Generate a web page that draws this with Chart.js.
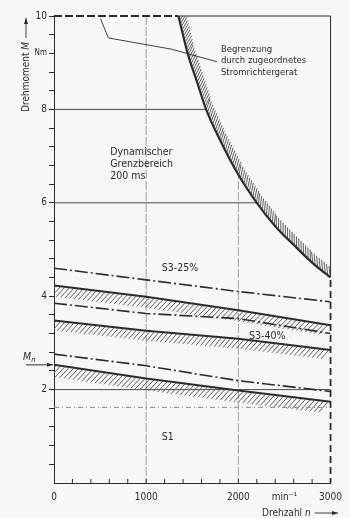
<!DOCTYPE html>
<html>
<head>
<meta charset="utf-8">
<script src="https://cdn.jsdelivr.net/npm/chart.js@4.4.0/dist/chart.umd.min.js"></script>
<style>
  html, body { margin: 0; padding: 0; background: #f7f7f5; }
  #wrap { width: 350px; height: 518px; position: relative; }
</style>
</head>
<body>
<div id="wrap"><canvas id="torqueChart"></canvas></div>
<script>
// Speed n (min^-1) / torque M (Nm)
const speedSteps   = [0, 1000, 2000, 3000];
const torqueS3_25  = [4.60, 4.35, 4.10, 3.88];   // dash-dot above S3-25%
const torqueUpper  = [4.23, 3.99, 3.70, 3.38];   // solid, hatched below
const torqueS3_40  = [3.85, 3.63, 3.52, 3.20];   // dash-dot
const torqueMiddle = [3.48, 3.26, 3.09, 2.85];   // solid, hatched below
const torqueS1     = [2.76, 2.51, 2.19, 1.96];   // dash-dot
const torqueLower  = [2.53, 2.24, 1.98, 1.74];   // solid, hatched below
const torqueDotted = [1.62, 1.62, 1.62, 1.62];

// converter limit (hyperbola)
const limitSpeed  = [1350, 1450, 1550, 1650, 1800, 2000, 2200, 2400, 2600, 2800, 3000];
const limitTorque = [10, 9.2, 8.6, 8.0, 7.35, 6.6, 6.0, 5.5, 5.1, 4.72, 4.4];

// leader line of the "Begrenzung" note
const leaderSpeed  = [505, 590, 1274, 1768];
const leaderTorque = [9.94, 9.53, 9.29, 9.02];

const gridTorque = [2, 6, 8];
const gridSpeed = [1000, 2000];
const ratedTorque = 2.53;

const xTickValues = [0, 1000, 2000, 2500, 3000];
const xTickTexts  = ['0', '1000', '2000', 'min\u207B\u00B9', '3000'];
const yTickValues = [2, 4, 6, 8, 9.2, 10];
const yTickTexts  = ['2', '4', '6', '8', 'Nm', '10'];

const FONT = '"DejaVu Sans Condensed", "Liberation Sans Narrow", "DejaVu Sans", sans-serif';
const INK = '#2b2b2b';
const HATCH = '#5e5e5e';
const PAPER = '#f7f7f5';

function toXY(xs, ys) {
    return xs.map((x, i) => ({ x: x, y: ys[i] }));
}

// --- helpers for the frame / clipping -------------------------------------
function curvePixels(chart) {
    return chart.getDatasetMeta(0).data.map(p => ({ x: p.x, y: p.y }));
}

function insidePath(ctx, a, c) {
    const last = c[c.length - 1];
    ctx.beginPath();
    ctx.moveTo(a.left - 4, a.top - 4);
    ctx.lineTo(c[0].x, a.top - 4);
    c.forEach(p => ctx.lineTo(p.x, p.y));
    ctx.lineTo(a.right + 4, last.y);
    ctx.lineTo(a.right + 4, a.bottom + 4);
    ctx.lineTo(a.left - 4, a.bottom + 4);
    ctx.closePath();
}

function outsidePath(ctx, a, c) {
    const last = c[c.length - 1];
    ctx.beginPath();
    ctx.moveTo(c[0].x, a.top - 4);
    c.forEach(p => ctx.lineTo(p.x, p.y));
    ctx.lineTo(a.right + 4, last.y);
    ctx.lineTo(a.right + 4, a.top - 4);
    ctx.closePath();
}

function line(ctx, x1, y1, x2, y2) {
    ctx.beginPath();
    ctx.moveTo(x1, y1);
    ctx.lineTo(x2, y2);
    ctx.stroke();
}

// Paper, grid lines and frame, split at the limit curve
const framePlugin = {
    id: 'frame',
    beforeDraw(chart) {
        const ctx = chart.ctx;
        ctx.save();
        ctx.fillStyle = PAPER;
        ctx.fillRect(0, 0, chart.width, chart.height);
        ctx.restore();
    },
    beforeDatasetsDraw(chart) {
        const ctx = chart.ctx;
        const a = chart.chartArea;
        const xs = chart.scales.x, ys = chart.scales.y;
        const c = curvePixels(chart);

        // inside the permitted region
        ctx.save();
        insidePath(ctx, a, c);
        ctx.clip();
        ctx.strokeStyle = '#4a4a4a';
        ctx.lineWidth = 1;
        gridTorque.forEach(v => {
            const y = ys.getPixelForValue(v);
            line(ctx, a.left, y, a.right, y);
        });
        ctx.strokeStyle = '#949494';
        ctx.lineWidth = 0.9;
        ctx.setLineDash([9, 2]);
        gridSpeed.forEach(v => {
            const x = xs.getPixelForValue(v);
            line(ctx, x, a.top, x, a.bottom);
        });
        ctx.strokeStyle = INK;
        ctx.lineWidth = 2;
        ctx.setLineDash([8, 3]);
        line(ctx, a.left, a.top, a.right, a.top);
        ctx.lineWidth = 1.8;
        ctx.setLineDash([7, 4]);
        line(ctx, a.right, a.top, a.right, a.bottom);
        ctx.restore();

        // beyond the curve: thin solid frame
        ctx.save();
        outsidePath(ctx, a, c);
        ctx.clip();
        ctx.strokeStyle = INK;
        ctx.lineWidth = 1;
        line(ctx, a.left, a.top, a.right, a.top);
        line(ctx, a.right, a.top, a.right, a.bottom);
        ctx.restore();

        // inward ticks on the speed axis
        ctx.save();
        ctx.strokeStyle = INK;
        ctx.lineWidth = 1;
        for (let n = 200; n < 3000; n += 200) {
            const x = xs.getPixelForValue(n);
            line(ctx, x, a.bottom, x, a.bottom - 4);
        }
        ctx.restore();
    }
};

// Hatched bands along a dataset line
const hatchPlugin = {
    id: 'hatch',
    beforeDatasetsDraw(chart) {
        const ctx = chart.ctx;
        const a = chart.chartArea;
        ctx.save();
        ctx.beginPath();
        ctx.rect(a.left, a.top, a.right - a.left, a.bottom - a.top);
        ctx.clip();
        ctx.strokeStyle = HATCH;
        ctx.lineWidth = 1;
        chart.data.datasets.forEach((ds, i) => {
            const h = ds.hatch;
            if (!h) return;
            const pts = chart.getDatasetMeta(i).data.map(p => ({ x: p.x, y: p.y }));
            const th = h.angle * Math.PI / 180;
            const len = h.width / Math.sin(th);
            let offset = h.gap / 2;
            for (let k = 0; k < pts.length - 1; k++) {
                const p0 = pts[k], p1 = pts[k + 1];
                const dx = p1.x - p0.x, dy = p1.y - p0.y;
                const segLen = Math.hypot(dx, dy);
                const tx = dx / segLen, ty = dy / segLen;
                const nx = h.side * ty, ny = -h.side * tx;
                const ux = -tx * Math.cos(th) + nx * Math.sin(th);
                const uy = -ty * Math.cos(th) + ny * Math.sin(th);
                let s = offset;
                while (s < segLen) {
                    const px = p0.x + tx * s, py = p0.y + ty * s;
                    line(ctx, px + ux, py + uy, px + ux * len, py + uy * len);
                    s += h.gap;
                }
                offset = s - segLen;
            }
        });
        ctx.restore();
    }
};

function italicText(ctx, str, x, y, size) {
    ctx.font = 'italic ' + size + 'px ' + FONT;
    ctx.fillText(str, x, y);
    return ctx.measureText(str).width;
}

function arrow(ctx, x1, y1, x2, y2) {
    line(ctx, x1, y1, x2, y2);
    const ang = Math.atan2(y2 - y1, x2 - x1);
    ctx.beginPath();
    ctx.moveTo(x2, y2);
    ctx.lineTo(x2 - 6 * Math.cos(ang) + 2 * Math.sin(ang), y2 - 6 * Math.sin(ang) - 2 * Math.cos(ang));
    ctx.lineTo(x2 - 6 * Math.cos(ang) - 2 * Math.sin(ang), y2 - 6 * Math.sin(ang) + 2 * Math.cos(ang));
    ctx.closePath();
    ctx.fill();
}

// Notes, axis titles and the Mn marker
const textPlugin = {
    id: 'notes',
    afterDraw(chart) {
        const ctx = chart.ctx;
        const xs = chart.scales.x, ys = chart.scales.y;
        const a = chart.chartArea;
        const px = v => xs.getPixelForValue(v);
        const py = v => ys.getPixelForValue(v);
        ctx.save();
        ctx.fillStyle = INK;
        ctx.strokeStyle = INK;
        ctx.textBaseline = 'middle';
        ctx.textAlign = 'left';

        ctx.font = '9.5px ' + FONT;
        ['Begrenzung', 'durch zugeordnetes', 'Stromrichtergerat'].forEach((t, i) => {
            ctx.fillText(t, px(1811), py(9.29) + i * 11.5);
        });
        ctx.font = '10.5px ' + FONT;
        ['Dynamischer', 'Grenzbereich', '200 ms'].forEach((t, i) => {
            ctx.fillText(t, px(610), py(7.09) + i * 12);
        });
        ctx.fillText('S3-25%', px(1170), py(4.60));
        ctx.fillText('S3-40%', px(2116), py(3.15));
        ctx.fillText('S1', px(1170), py(0.98));

        // Mn arrow
        const yMn = py(ratedTorque);
        const w = italicText(ctx, 'M', 23, yMn - 8, 10.5);
        ctx.font = 'italic 7.5px ' + FONT;
        ctx.fillText('n', 23 + w, yMn - 5);
        ctx.lineWidth = 1;
        arrow(ctx, 26, yMn, a.left - 1, yMn);

        // y title, rotated
        ctx.save();
        ctx.translate(26, 112);
        ctx.rotate(-Math.PI / 2);
        ctx.font = '10px ' + FONT;
        ctx.fillText('Drehmoment', 0, 0);
        let off = ctx.measureText('Drehmoment ').width;
        off += italicText(ctx, 'M', off, 0, 10);
        ctx.lineWidth = 0.9;
        arrow(ctx, off + 4, 0, 94, 0);
        ctx.restore();

        // x title
        ctx.font = '10px ' + FONT;
        ctx.fillText('Drehzahl', 262, 513);
        let xo = 262 + ctx.measureText('Drehzahl ').width;
        xo += italicText(ctx, 'n', xo, 513, 10);
        ctx.lineWidth = 0.9;
        arrow(ctx, xo + 4, 513, 338, 513);
        ctx.restore();
    }
};

const dashDot = [13, 3, 2, 3];

new Chart(document.getElementById('torqueChart'), {
    type: 'line',
    data: {
        datasets: [
            { label: 'Begrenzung', data: toXY(limitSpeed, limitTorque), borderWidth: 2.2,
              cubicInterpolationMode: 'monotone', hatch: { side: 1, width: 8, angle: 45, gap: 3.2 } },
            { label: 'S3-25%', data: toXY(speedSteps, torqueS3_25), borderWidth: 1.6, borderDash: dashDot },
            { label: 'upper', data: toXY(speedSteps, torqueUpper), borderWidth: 2,
              hatch: { side: -1, width: 11, angle: 55, gap: 4.5 } },
            { label: 'S3-40%', data: toXY(speedSteps, torqueS3_40), borderWidth: 1.6, borderDash: dashDot },
            { label: 'middle', data: toXY(speedSteps, torqueMiddle), borderWidth: 2,
              hatch: { side: -1, width: 10, angle: 55, gap: 4.5 } },
            { label: 'S1', data: toXY(speedSteps, torqueS1), borderWidth: 1.6, borderDash: dashDot },
            { label: 'lower', data: toXY(speedSteps, torqueLower), borderWidth: 2,
              hatch: { side: -1, width: 12, angle: 55, gap: 4.5 } },
            { label: 'dotted', data: toXY(speedSteps, torqueDotted), borderWidth: 1,
              borderColor: '#8a8a8a', borderDash: [5, 3, 1, 3] },
            { label: 'leader', data: toXY(leaderSpeed, leaderTorque), borderWidth: 0.9 }
        ]
    },
    options: {
        responsive: true,
        maintainAspectRatio: false,
        animation: false,
        layout: { padding: { top: 16, right: 11, left: 0, bottom: 0 } },
        plugins: { legend: { display: false }, tooltip: { enabled: false } },
        elements: {
            point: { radius: 0 },
            line: { tension: 0, fill: false, borderColor: INK, borderCapStyle: 'butt' }
        },
        scales: {
            x: {
                type: 'linear', min: 0, max: 3000,
                afterFit: s => { s.height = 35; },
                grid: { display: true, drawOnChartArea: false, drawTicks: false },
                border: { display: true, color: INK, width: 1 },
                ticks: {
                    stepSize: 100, autoSkip: false, maxRotation: 0, minRotation: 0,
                    padding: 8, color: INK, font: { family: FONT, size: 10 },
                    callback: v => {
                        const i = xTickValues.indexOf(v);
                        return i >= 0 ? xTickTexts[i] : '';
                    }
                }
            },
            y: {
                type: 'linear', min: 0, max: 10,
                afterFit: s => { s.width = 54; },
                grid: {
                    drawOnChartArea: false, tickLength: 5, tickWidth: 1,
                    tickColor: c => (c.tick && c.tick.value === 0) ? 'transparent' : INK
                },
                border: { display: true, color: INK, width: 1 },
                ticks: {
                    stepSize: 0.4, autoSkip: false, padding: 2, color: INK,
                    font: c => ({ family: FONT, size: (c.tick && c.tick.value === 9.2) ? 8 : 10 }),
                    callback: v => {
                        const i = yTickValues.indexOf(v);
                        return i >= 0 ? yTickTexts[i] : '';
                    }
                }
            }
        }
    },
    plugins: [framePlugin, hatchPlugin, textPlugin]
});
</script>
</body>
</html>
